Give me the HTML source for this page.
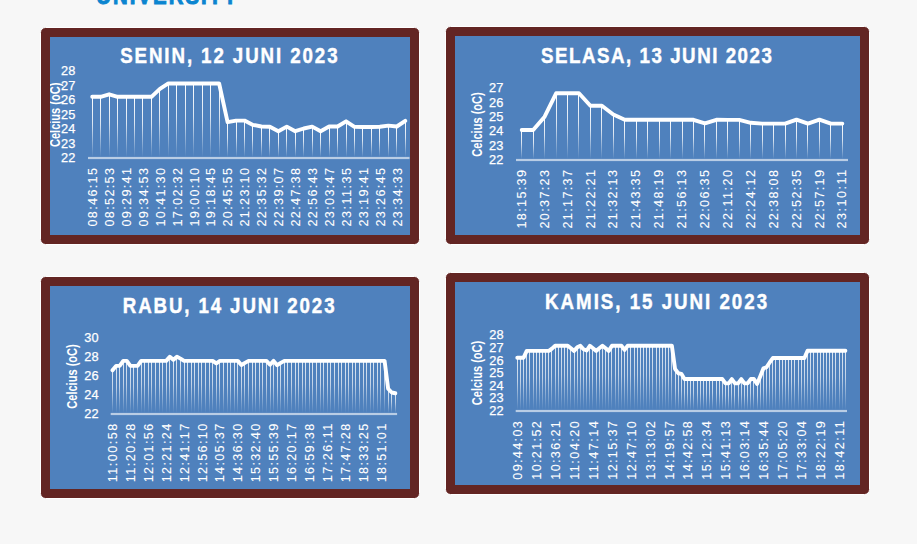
<!DOCTYPE html><html><head><meta charset="utf-8"><title>Charts</title><style>html,body{margin:0;padding:0;background:#f7f7f7;overflow:hidden}svg{display:block}text{font-family:"Liberation Sans",sans-serif}</style></head><body>
<svg width="917" height="544" viewBox="0 0 917 544">
<defs><linearGradient id="dg" x1="0" y1="0" x2="0" y2="1"><stop offset="0" stop-color="#fff" stop-opacity="1.000"/><stop offset="0.45" stop-color="#fff" stop-opacity="0.780"/><stop offset="0.8" stop-color="#fff" stop-opacity="0.300"/><stop offset="1" stop-color="#fff" stop-opacity="0"/></linearGradient><linearGradient id="dg2" x1="0" y1="0" x2="0" y2="1"><stop offset="0" stop-color="#fff" stop-opacity="0.820"/><stop offset="0.45" stop-color="#fff" stop-opacity="0.640"/><stop offset="0.8" stop-color="#fff" stop-opacity="0.246"/><stop offset="1" stop-color="#fff" stop-opacity="0"/></linearGradient></defs>
<rect width="917" height="544" fill="#f7f7f7"/>
<text transform="translate(96.2,4.2) scale(0.85,1)" font-size="24" font-weight="bold" fill="#0b85d0" stroke="#0b85d0" stroke-width="1" textLength="165.5" lengthAdjust="spacing">UNIVERSITY</text>
<rect x="40.5" y="27.5" width="379.0" height="217.0" rx="5" fill="#632523" stroke="#fff" stroke-width="1"/>
<rect x="50" y="37" width="360" height="198" fill="#4f81bd"/>
<clipPath id="cp0"><rect x="50" y="37" width="360" height="198"/></clipPath>
<g clip-path="url(#cp0)">
<text transform="translate(120.2,63.2) scale(0.870,1)" font-size="21.5" font-weight="bold" fill="#fff" stroke="#fff" stroke-width="0.45" textLength="249.8" lengthAdjust="spacing">SENIN, 12 JUNI 2023</text>
<text x="75.3" y="162.1" font-size="12.8" fill="#fff" stroke="#fff" stroke-width="0.25" text-anchor="end">22</text>
<text x="75.3" y="147.6" font-size="12.8" fill="#fff" stroke="#fff" stroke-width="0.25" text-anchor="end">23</text>
<text x="75.3" y="133.1" font-size="12.8" fill="#fff" stroke="#fff" stroke-width="0.25" text-anchor="end">24</text>
<text x="75.3" y="118.6" font-size="12.8" fill="#fff" stroke="#fff" stroke-width="0.25" text-anchor="end">25</text>
<text x="75.3" y="104.1" font-size="12.8" fill="#fff" stroke="#fff" stroke-width="0.25" text-anchor="end">26</text>
<text x="75.3" y="89.6" font-size="12.8" fill="#fff" stroke="#fff" stroke-width="0.25" text-anchor="end">27</text>
<text x="75.3" y="75.1" font-size="12.8" fill="#fff" stroke="#fff" stroke-width="0.25" text-anchor="end">28</text>
<text transform="translate(55.0,114.8) rotate(-90)" x="0" y="5" font-size="14" font-weight="bold" fill="#fff" text-anchor="middle" textLength="64.5" lengthAdjust="spacingAndGlyphs">Celcius (oC)</text>
<rect x="92" y="96.8" width="1" height="60.2" fill="url(#dg)"/>
<rect x="100" y="96.8" width="1" height="60.2" fill="url(#dg)"/>
<rect x="109" y="94.3" width="1" height="62.7" fill="url(#dg)"/>
<rect x="117" y="96.8" width="1" height="60.2" fill="url(#dg)"/>
<rect x="126" y="96.8" width="1" height="60.2" fill="url(#dg)"/>
<rect x="134" y="96.8" width="1" height="60.2" fill="url(#dg)"/>
<rect x="142" y="96.8" width="1" height="60.2" fill="url(#dg)"/>
<rect x="151" y="96.8" width="1" height="60.2" fill="url(#dg)"/>
<rect x="159" y="88.8" width="1" height="68.2" fill="url(#dg)"/>
<rect x="168" y="83.4" width="1" height="73.6" fill="url(#dg)"/>
<rect x="176" y="83.5" width="1" height="73.5" fill="url(#dg)"/>
<rect x="185" y="83.5" width="1" height="73.5" fill="url(#dg)"/>
<rect x="193" y="83.5" width="1" height="73.5" fill="url(#dg)"/>
<rect x="202" y="83.5" width="1" height="73.5" fill="url(#dg)"/>
<rect x="210" y="83.5" width="1" height="73.5" fill="url(#dg)"/>
<rect x="219" y="83.5" width="1" height="73.5" fill="url(#dg)"/>
<rect x="227" y="122.2" width="1" height="34.8" fill="url(#dg)"/>
<rect x="236" y="120.6" width="1" height="36.4" fill="url(#dg)"/>
<rect x="244" y="120.6" width="1" height="36.4" fill="url(#dg)"/>
<rect x="252" y="124.9" width="1" height="32.1" fill="url(#dg)"/>
<rect x="261" y="126.5" width="1" height="30.5" fill="url(#dg)"/>
<rect x="269" y="126.8" width="1" height="30.2" fill="url(#dg)"/>
<rect x="278" y="131.2" width="1" height="25.8" fill="url(#dg)"/>
<rect x="286" y="126.6" width="1" height="30.4" fill="url(#dg)"/>
<rect x="295" y="131.2" width="1" height="25.8" fill="url(#dg)"/>
<rect x="303" y="128.5" width="1" height="28.5" fill="url(#dg)"/>
<rect x="312" y="126.6" width="1" height="30.4" fill="url(#dg)"/>
<rect x="320" y="131.2" width="1" height="25.8" fill="url(#dg)"/>
<rect x="329" y="126.5" width="1" height="30.5" fill="url(#dg)"/>
<rect x="337" y="126.5" width="1" height="30.5" fill="url(#dg)"/>
<rect x="346" y="121.3" width="1" height="35.7" fill="url(#dg)"/>
<rect x="354" y="126.9" width="1" height="30.1" fill="url(#dg)"/>
<rect x="362" y="127.0" width="1" height="30.0" fill="url(#dg)"/>
<rect x="371" y="127.0" width="1" height="30.0" fill="url(#dg)"/>
<rect x="379" y="126.8" width="1" height="30.2" fill="url(#dg)"/>
<rect x="388" y="125.6" width="1" height="31.4" fill="url(#dg)"/>
<rect x="396" y="126.5" width="1" height="30.5" fill="url(#dg)"/>
<rect x="405" y="120.9" width="1" height="36.1" fill="url(#dg)"/>
<rect x="88.0" y="156.9" width="321.5" height="2.2" fill="#b9cde5"/>
<polyline points="92.23,96.80 100.69,96.80 109.15,94.30 117.61,96.80 126.07,96.80 134.53,96.80 142.99,96.80 151.45,96.80 159.91,88.80 168.37,83.40 176.83,83.50 185.29,83.50 193.75,83.50 202.21,83.50 210.67,83.50 219.13,83.50 227.59,122.20 236.05,120.60 244.51,120.60 252.97,124.90 261.43,126.50 269.89,126.80 278.35,131.20 286.81,126.60 295.27,131.20 303.73,128.50 312.19,126.60 320.65,131.20 329.11,126.50 337.57,126.50 346.03,121.30 354.49,126.90 362.95,127.00 371.41,127.00 379.87,126.80 388.33,125.60 396.79,126.50 405.25,120.90" fill="none" stroke="#fff" stroke-width="3.90" stroke-linejoin="round" stroke-linecap="round"/>
<text transform="translate(92.58,168.0) rotate(-90) scale(1.000,1)" x="0" y="4.4" font-size="12.6" fill="#fff" stroke="#fff" stroke-width="0.1" text-anchor="end" textLength="58.50" lengthAdjust="spacing">08:46:15</text>
<text transform="translate(109.50,168.0) rotate(-90) scale(1.000,1)" x="0" y="4.4" font-size="12.6" fill="#fff" stroke="#fff" stroke-width="0.1" text-anchor="end" textLength="58.50" lengthAdjust="spacing">08:52:53</text>
<text transform="translate(126.42,168.0) rotate(-90) scale(1.000,1)" x="0" y="4.4" font-size="12.6" fill="#fff" stroke="#fff" stroke-width="0.1" text-anchor="end" textLength="58.50" lengthAdjust="spacing">09:29:41</text>
<text transform="translate(143.34,168.0) rotate(-90) scale(1.000,1)" x="0" y="4.4" font-size="12.6" fill="#fff" stroke="#fff" stroke-width="0.1" text-anchor="end" textLength="58.50" lengthAdjust="spacing">09:34:53</text>
<text transform="translate(160.26,168.0) rotate(-90) scale(1.000,1)" x="0" y="4.4" font-size="12.6" fill="#fff" stroke="#fff" stroke-width="0.1" text-anchor="end" textLength="58.50" lengthAdjust="spacing">10:41:30</text>
<text transform="translate(177.18,168.0) rotate(-90) scale(1.000,1)" x="0" y="4.4" font-size="12.6" fill="#fff" stroke="#fff" stroke-width="0.1" text-anchor="end" textLength="58.50" lengthAdjust="spacing">17:02:32</text>
<text transform="translate(194.10,168.0) rotate(-90) scale(1.000,1)" x="0" y="4.4" font-size="12.6" fill="#fff" stroke="#fff" stroke-width="0.1" text-anchor="end" textLength="58.50" lengthAdjust="spacing">19:00:10</text>
<text transform="translate(211.02,168.0) rotate(-90) scale(1.000,1)" x="0" y="4.4" font-size="12.6" fill="#fff" stroke="#fff" stroke-width="0.1" text-anchor="end" textLength="58.50" lengthAdjust="spacing">19:18:45</text>
<text transform="translate(227.94,168.0) rotate(-90) scale(1.000,1)" x="0" y="4.4" font-size="12.6" fill="#fff" stroke="#fff" stroke-width="0.1" text-anchor="end" textLength="58.50" lengthAdjust="spacing">20:45:55</text>
<text transform="translate(244.86,168.0) rotate(-90) scale(1.000,1)" x="0" y="4.4" font-size="12.6" fill="#fff" stroke="#fff" stroke-width="0.1" text-anchor="end" textLength="58.50" lengthAdjust="spacing">21:23:10</text>
<text transform="translate(261.78,168.0) rotate(-90) scale(1.000,1)" x="0" y="4.4" font-size="12.6" fill="#fff" stroke="#fff" stroke-width="0.1" text-anchor="end" textLength="58.50" lengthAdjust="spacing">22:35:32</text>
<text transform="translate(278.70,168.0) rotate(-90) scale(1.000,1)" x="0" y="4.4" font-size="12.6" fill="#fff" stroke="#fff" stroke-width="0.1" text-anchor="end" textLength="58.50" lengthAdjust="spacing">22:39:07</text>
<text transform="translate(295.62,168.0) rotate(-90) scale(1.000,1)" x="0" y="4.4" font-size="12.6" fill="#fff" stroke="#fff" stroke-width="0.1" text-anchor="end" textLength="58.50" lengthAdjust="spacing">22:47:38</text>
<text transform="translate(312.54,168.0) rotate(-90) scale(1.000,1)" x="0" y="4.4" font-size="12.6" fill="#fff" stroke="#fff" stroke-width="0.1" text-anchor="end" textLength="58.50" lengthAdjust="spacing">22:56:43</text>
<text transform="translate(329.46,168.0) rotate(-90) scale(1.000,1)" x="0" y="4.4" font-size="12.6" fill="#fff" stroke="#fff" stroke-width="0.1" text-anchor="end" textLength="58.50" lengthAdjust="spacing">23:03:47</text>
<text transform="translate(346.38,168.0) rotate(-90) scale(1.000,1)" x="0" y="4.4" font-size="12.6" fill="#fff" stroke="#fff" stroke-width="0.1" text-anchor="end" textLength="58.50" lengthAdjust="spacing">23:11:35</text>
<text transform="translate(363.30,168.0) rotate(-90) scale(1.000,1)" x="0" y="4.4" font-size="12.6" fill="#fff" stroke="#fff" stroke-width="0.1" text-anchor="end" textLength="58.50" lengthAdjust="spacing">23:19:41</text>
<text transform="translate(380.22,168.0) rotate(-90) scale(1.000,1)" x="0" y="4.4" font-size="12.6" fill="#fff" stroke="#fff" stroke-width="0.1" text-anchor="end" textLength="58.50" lengthAdjust="spacing">23:26:45</text>
<text transform="translate(397.14,168.0) rotate(-90) scale(1.000,1)" x="0" y="4.4" font-size="12.6" fill="#fff" stroke="#fff" stroke-width="0.1" text-anchor="end" textLength="58.50" lengthAdjust="spacing">23:34:33</text>
</g>
<rect x="445.5" y="26.5" width="424.0" height="218.0" rx="5" fill="#632523" stroke="#fff" stroke-width="1"/>
<rect x="455" y="36" width="405" height="199" fill="#4f81bd"/>
<clipPath id="cp1"><rect x="455" y="36" width="405" height="199"/></clipPath>
<g clip-path="url(#cp1)">
<text transform="translate(541.1,62.5) scale(0.870,1)" font-size="21.5" font-weight="bold" fill="#fff" stroke="#fff" stroke-width="0.45" textLength="265.2" lengthAdjust="spacing">SELASA, 13 JUNI 2023</text>
<text x="503.3" y="164.0" font-size="12.8" fill="#fff" stroke="#fff" stroke-width="0.25" text-anchor="end">22</text>
<text x="503.3" y="149.7" font-size="12.8" fill="#fff" stroke="#fff" stroke-width="0.25" text-anchor="end">23</text>
<text x="503.3" y="135.4" font-size="12.8" fill="#fff" stroke="#fff" stroke-width="0.25" text-anchor="end">24</text>
<text x="503.3" y="121.0" font-size="12.8" fill="#fff" stroke="#fff" stroke-width="0.25" text-anchor="end">25</text>
<text x="503.3" y="106.7" font-size="12.8" fill="#fff" stroke="#fff" stroke-width="0.25" text-anchor="end">26</text>
<text x="503.3" y="92.4" font-size="12.8" fill="#fff" stroke="#fff" stroke-width="0.25" text-anchor="end">27</text>
<text transform="translate(477.1,124.5) rotate(-90)" x="0" y="5" font-size="14" font-weight="bold" fill="#fff" text-anchor="middle" textLength="64.5" lengthAdjust="spacingAndGlyphs">Celcius (oC)</text>
<rect x="521" y="130.0" width="1" height="29.0" fill="url(#dg)"/>
<rect x="533" y="130.0" width="1" height="29.0" fill="url(#dg)"/>
<rect x="544" y="116.7" width="1" height="42.3" fill="url(#dg)"/>
<rect x="556" y="93.3" width="1" height="65.7" fill="url(#dg)"/>
<rect x="567" y="93.3" width="1" height="65.7" fill="url(#dg)"/>
<rect x="578" y="93.3" width="1" height="65.7" fill="url(#dg)"/>
<rect x="590" y="105.8" width="1" height="53.2" fill="url(#dg)"/>
<rect x="601" y="105.8" width="1" height="53.2" fill="url(#dg)"/>
<rect x="613" y="114.5" width="1" height="44.5" fill="url(#dg)"/>
<rect x="624" y="119.8" width="1" height="39.2" fill="url(#dg)"/>
<rect x="636" y="119.8" width="1" height="39.2" fill="url(#dg)"/>
<rect x="647" y="119.8" width="1" height="39.2" fill="url(#dg)"/>
<rect x="659" y="119.8" width="1" height="39.2" fill="url(#dg)"/>
<rect x="670" y="119.8" width="1" height="39.2" fill="url(#dg)"/>
<rect x="682" y="119.8" width="1" height="39.2" fill="url(#dg)"/>
<rect x="693" y="119.8" width="1" height="39.2" fill="url(#dg)"/>
<rect x="704" y="123.4" width="1" height="35.6" fill="url(#dg)"/>
<rect x="716" y="119.8" width="1" height="39.2" fill="url(#dg)"/>
<rect x="727" y="119.9" width="1" height="39.1" fill="url(#dg)"/>
<rect x="739" y="119.9" width="1" height="39.1" fill="url(#dg)"/>
<rect x="750" y="122.8" width="1" height="36.2" fill="url(#dg)"/>
<rect x="762" y="123.6" width="1" height="35.4" fill="url(#dg)"/>
<rect x="773" y="123.6" width="1" height="35.4" fill="url(#dg)"/>
<rect x="785" y="123.6" width="1" height="35.4" fill="url(#dg)"/>
<rect x="796" y="119.6" width="1" height="39.4" fill="url(#dg)"/>
<rect x="807" y="123.6" width="1" height="35.4" fill="url(#dg)"/>
<rect x="819" y="119.6" width="1" height="39.4" fill="url(#dg)"/>
<rect x="830" y="123.6" width="1" height="35.4" fill="url(#dg)"/>
<rect x="842" y="123.6" width="1" height="35.4" fill="url(#dg)"/>
<rect x="516.0" y="158.9" width="332.0" height="2.2" fill="#b9cde5"/>
<polyline points="521.73,130.00 533.17,130.00 544.62,116.70 556.08,93.30 567.52,93.30 578.98,93.30 590.42,105.80 601.88,105.80 613.33,114.50 624.77,119.80 636.23,119.80 647.67,119.80 659.12,119.80 670.58,119.80 682.02,119.80 693.48,119.80 704.92,123.40 716.38,119.80 727.83,119.90 739.27,119.90 750.73,122.80 762.17,123.60 773.62,123.60 785.08,123.60 796.52,119.60 807.97,123.60 819.42,119.60 830.88,123.60 842.33,123.60" fill="none" stroke="#fff" stroke-width="3.90" stroke-linejoin="round" stroke-linecap="round"/>
<text transform="translate(521.48,170.0) rotate(-90) scale(1.000,1)" x="0" y="4.4" font-size="12.6" fill="#fff" stroke="#fff" stroke-width="0.1" text-anchor="end" textLength="58.50" lengthAdjust="spacing">18:15:39</text>
<text transform="translate(544.38,170.0) rotate(-90) scale(1.000,1)" x="0" y="4.4" font-size="12.6" fill="#fff" stroke="#fff" stroke-width="0.1" text-anchor="end" textLength="58.50" lengthAdjust="spacing">20:37:23</text>
<text transform="translate(567.27,170.0) rotate(-90) scale(1.000,1)" x="0" y="4.4" font-size="12.6" fill="#fff" stroke="#fff" stroke-width="0.1" text-anchor="end" textLength="58.50" lengthAdjust="spacing">21:17:37</text>
<text transform="translate(590.17,170.0) rotate(-90) scale(1.000,1)" x="0" y="4.4" font-size="12.6" fill="#fff" stroke="#fff" stroke-width="0.1" text-anchor="end" textLength="58.50" lengthAdjust="spacing">21:22:21</text>
<text transform="translate(613.08,170.0) rotate(-90) scale(1.000,1)" x="0" y="4.4" font-size="12.6" fill="#fff" stroke="#fff" stroke-width="0.1" text-anchor="end" textLength="58.50" lengthAdjust="spacing">21:32:13</text>
<text transform="translate(635.98,170.0) rotate(-90) scale(1.000,1)" x="0" y="4.4" font-size="12.6" fill="#fff" stroke="#fff" stroke-width="0.1" text-anchor="end" textLength="58.50" lengthAdjust="spacing">21:43:35</text>
<text transform="translate(658.88,170.0) rotate(-90) scale(1.000,1)" x="0" y="4.4" font-size="12.6" fill="#fff" stroke="#fff" stroke-width="0.1" text-anchor="end" textLength="58.50" lengthAdjust="spacing">21:48:19</text>
<text transform="translate(681.77,170.0) rotate(-90) scale(1.000,1)" x="0" y="4.4" font-size="12.6" fill="#fff" stroke="#fff" stroke-width="0.1" text-anchor="end" textLength="58.50" lengthAdjust="spacing">21:56:13</text>
<text transform="translate(704.67,170.0) rotate(-90) scale(1.000,1)" x="0" y="4.4" font-size="12.6" fill="#fff" stroke="#fff" stroke-width="0.1" text-anchor="end" textLength="58.50" lengthAdjust="spacing">22:06:35</text>
<text transform="translate(727.58,170.0) rotate(-90) scale(1.000,1)" x="0" y="4.4" font-size="12.6" fill="#fff" stroke="#fff" stroke-width="0.1" text-anchor="end" textLength="58.50" lengthAdjust="spacing">22:11:20</text>
<text transform="translate(750.48,170.0) rotate(-90) scale(1.000,1)" x="0" y="4.4" font-size="12.6" fill="#fff" stroke="#fff" stroke-width="0.1" text-anchor="end" textLength="58.50" lengthAdjust="spacing">22:24:12</text>
<text transform="translate(773.38,170.0) rotate(-90) scale(1.000,1)" x="0" y="4.4" font-size="12.6" fill="#fff" stroke="#fff" stroke-width="0.1" text-anchor="end" textLength="58.50" lengthAdjust="spacing">22:38:08</text>
<text transform="translate(796.27,170.0) rotate(-90) scale(1.000,1)" x="0" y="4.4" font-size="12.6" fill="#fff" stroke="#fff" stroke-width="0.1" text-anchor="end" textLength="58.50" lengthAdjust="spacing">22:52:35</text>
<text transform="translate(819.17,170.0) rotate(-90) scale(1.000,1)" x="0" y="4.4" font-size="12.6" fill="#fff" stroke="#fff" stroke-width="0.1" text-anchor="end" textLength="58.50" lengthAdjust="spacing">22:57:19</text>
<text transform="translate(842.08,170.0) rotate(-90) scale(1.000,1)" x="0" y="4.4" font-size="12.6" fill="#fff" stroke="#fff" stroke-width="0.1" text-anchor="end" textLength="58.50" lengthAdjust="spacing">23:10:11</text>
</g>
<rect x="40.5" y="276.5" width="379.0" height="222.0" rx="5" fill="#632523" stroke="#fff" stroke-width="1"/>
<rect x="50" y="286" width="360" height="203" fill="#4f81bd"/>
<clipPath id="cp2"><rect x="50" y="286" width="360" height="203"/></clipPath>
<g clip-path="url(#cp2)">
<text transform="translate(122.8,312.6) scale(0.870,1)" font-size="21.5" font-weight="bold" fill="#fff" stroke="#fff" stroke-width="0.45" textLength="243.4" lengthAdjust="spacing">RABU, 14 JUNI 2023</text>
<text x="98.6" y="417.7" font-size="12.8" fill="#fff" stroke="#fff" stroke-width="0.25" text-anchor="end">22</text>
<text x="98.6" y="398.9" font-size="12.8" fill="#fff" stroke="#fff" stroke-width="0.25" text-anchor="end">24</text>
<text x="98.6" y="380.0" font-size="12.8" fill="#fff" stroke="#fff" stroke-width="0.25" text-anchor="end">26</text>
<text x="98.6" y="361.2" font-size="12.8" fill="#fff" stroke="#fff" stroke-width="0.25" text-anchor="end">28</text>
<text x="98.6" y="342.4" font-size="12.8" fill="#fff" stroke="#fff" stroke-width="0.25" text-anchor="end">30</text>
<text transform="translate(72.0,376.5) rotate(-90)" x="0" y="5" font-size="14" font-weight="bold" fill="#fff" text-anchor="middle" textLength="64.5" lengthAdjust="spacingAndGlyphs">Celcius (oC)</text>
<rect x="112" y="370.3" width="1" height="42.7" fill="url(#dg2)"/>
<rect x="116" y="365.9" width="1" height="47.1" fill="url(#dg2)"/>
<rect x="119" y="365.9" width="1" height="47.1" fill="url(#dg2)"/>
<rect x="123" y="360.9" width="1" height="52.1" fill="url(#dg2)"/>
<rect x="126" y="360.9" width="1" height="52.1" fill="url(#dg2)"/>
<rect x="130" y="365.9" width="1" height="47.1" fill="url(#dg2)"/>
<rect x="133" y="365.9" width="1" height="47.1" fill="url(#dg2)"/>
<rect x="137" y="365.9" width="1" height="47.1" fill="url(#dg2)"/>
<rect x="141" y="360.9" width="1" height="52.1" fill="url(#dg2)"/>
<rect x="144" y="360.9" width="1" height="52.1" fill="url(#dg2)"/>
<rect x="148" y="360.9" width="1" height="52.1" fill="url(#dg2)"/>
<rect x="151" y="360.9" width="1" height="52.1" fill="url(#dg2)"/>
<rect x="155" y="360.9" width="1" height="52.1" fill="url(#dg2)"/>
<rect x="159" y="360.9" width="1" height="52.1" fill="url(#dg2)"/>
<rect x="162" y="360.9" width="1" height="52.1" fill="url(#dg2)"/>
<rect x="166" y="360.9" width="1" height="52.1" fill="url(#dg2)"/>
<rect x="169" y="356.7" width="1" height="56.3" fill="url(#dg2)"/>
<rect x="173" y="359.8" width="1" height="53.2" fill="url(#dg2)"/>
<rect x="176" y="356.7" width="1" height="56.3" fill="url(#dg2)"/>
<rect x="180" y="358.6" width="1" height="54.4" fill="url(#dg2)"/>
<rect x="184" y="360.9" width="1" height="52.1" fill="url(#dg2)"/>
<rect x="187" y="360.9" width="1" height="52.1" fill="url(#dg2)"/>
<rect x="191" y="360.9" width="1" height="52.1" fill="url(#dg2)"/>
<rect x="194" y="360.9" width="1" height="52.1" fill="url(#dg2)"/>
<rect x="198" y="360.9" width="1" height="52.1" fill="url(#dg2)"/>
<rect x="201" y="360.9" width="1" height="52.1" fill="url(#dg2)"/>
<rect x="205" y="360.9" width="1" height="52.1" fill="url(#dg2)"/>
<rect x="209" y="360.9" width="1" height="52.1" fill="url(#dg2)"/>
<rect x="212" y="360.9" width="1" height="52.1" fill="url(#dg2)"/>
<rect x="216" y="363.3" width="1" height="49.7" fill="url(#dg2)"/>
<rect x="219" y="360.9" width="1" height="52.1" fill="url(#dg2)"/>
<rect x="223" y="360.9" width="1" height="52.1" fill="url(#dg2)"/>
<rect x="227" y="360.9" width="1" height="52.1" fill="url(#dg2)"/>
<rect x="230" y="360.9" width="1" height="52.1" fill="url(#dg2)"/>
<rect x="234" y="360.9" width="1" height="52.1" fill="url(#dg2)"/>
<rect x="237" y="360.9" width="1" height="52.1" fill="url(#dg2)"/>
<rect x="241" y="365.0" width="1" height="48.0" fill="url(#dg2)"/>
<rect x="244" y="362.8" width="1" height="50.2" fill="url(#dg2)"/>
<rect x="248" y="360.9" width="1" height="52.1" fill="url(#dg2)"/>
<rect x="252" y="360.9" width="1" height="52.1" fill="url(#dg2)"/>
<rect x="255" y="360.9" width="1" height="52.1" fill="url(#dg2)"/>
<rect x="259" y="360.9" width="1" height="52.1" fill="url(#dg2)"/>
<rect x="262" y="360.9" width="1" height="52.1" fill="url(#dg2)"/>
<rect x="266" y="360.9" width="1" height="52.1" fill="url(#dg2)"/>
<rect x="270" y="364.7" width="1" height="48.3" fill="url(#dg2)"/>
<rect x="273" y="360.9" width="1" height="52.1" fill="url(#dg2)"/>
<rect x="277" y="365.2" width="1" height="47.8" fill="url(#dg2)"/>
<rect x="280" y="362.8" width="1" height="50.2" fill="url(#dg2)"/>
<rect x="284" y="360.9" width="1" height="52.1" fill="url(#dg2)"/>
<rect x="287" y="360.9" width="1" height="52.1" fill="url(#dg2)"/>
<rect x="291" y="360.9" width="1" height="52.1" fill="url(#dg2)"/>
<rect x="295" y="360.9" width="1" height="52.1" fill="url(#dg2)"/>
<rect x="298" y="360.9" width="1" height="52.1" fill="url(#dg2)"/>
<rect x="302" y="360.9" width="1" height="52.1" fill="url(#dg2)"/>
<rect x="305" y="360.9" width="1" height="52.1" fill="url(#dg2)"/>
<rect x="309" y="360.9" width="1" height="52.1" fill="url(#dg2)"/>
<rect x="312" y="360.9" width="1" height="52.1" fill="url(#dg2)"/>
<rect x="316" y="360.9" width="1" height="52.1" fill="url(#dg2)"/>
<rect x="320" y="360.9" width="1" height="52.1" fill="url(#dg2)"/>
<rect x="323" y="360.9" width="1" height="52.1" fill="url(#dg2)"/>
<rect x="327" y="360.9" width="1" height="52.1" fill="url(#dg2)"/>
<rect x="330" y="360.9" width="1" height="52.1" fill="url(#dg2)"/>
<rect x="334" y="360.9" width="1" height="52.1" fill="url(#dg2)"/>
<rect x="338" y="360.9" width="1" height="52.1" fill="url(#dg2)"/>
<rect x="341" y="360.9" width="1" height="52.1" fill="url(#dg2)"/>
<rect x="345" y="360.9" width="1" height="52.1" fill="url(#dg2)"/>
<rect x="348" y="360.9" width="1" height="52.1" fill="url(#dg2)"/>
<rect x="352" y="360.9" width="1" height="52.1" fill="url(#dg2)"/>
<rect x="355" y="360.9" width="1" height="52.1" fill="url(#dg2)"/>
<rect x="359" y="360.9" width="1" height="52.1" fill="url(#dg2)"/>
<rect x="363" y="360.9" width="1" height="52.1" fill="url(#dg2)"/>
<rect x="366" y="360.9" width="1" height="52.1" fill="url(#dg2)"/>
<rect x="370" y="360.9" width="1" height="52.1" fill="url(#dg2)"/>
<rect x="373" y="360.9" width="1" height="52.1" fill="url(#dg2)"/>
<rect x="377" y="360.9" width="1" height="52.1" fill="url(#dg2)"/>
<rect x="380" y="360.9" width="1" height="52.1" fill="url(#dg2)"/>
<rect x="384" y="360.9" width="1" height="52.1" fill="url(#dg2)"/>
<rect x="388" y="388.7" width="1" height="24.3" fill="url(#dg2)"/>
<rect x="391" y="392.5" width="1" height="20.5" fill="url(#dg2)"/>
<rect x="395" y="393.2" width="1" height="19.8" fill="url(#dg2)"/>
<rect x="110.7" y="412.9" width="286.4" height="2.2" fill="#b9cde5"/>
<polyline points="112.49,370.28 116.07,365.86 119.65,365.86 123.23,360.87 126.81,360.87 130.39,365.86 133.97,365.86 137.55,365.86 141.13,360.87 144.71,360.87 148.29,360.87 151.87,360.87 155.45,360.87 159.03,360.87 162.61,360.87 166.19,360.87 169.77,356.72 173.35,359.83 176.93,356.72 180.51,358.61 184.09,360.87 187.67,360.87 191.25,360.87 194.83,360.87 198.41,360.87 201.99,360.87 205.57,360.87 209.15,360.87 212.73,360.87 216.31,363.31 219.89,360.87 223.47,360.87 227.05,360.87 230.63,360.87 234.21,360.87 237.79,360.87 241.37,365.01 244.95,362.84 248.53,360.87 252.11,360.87 255.69,360.87 259.27,360.87 262.85,360.87 266.43,360.87 270.01,364.73 273.59,360.87 277.17,365.20 280.75,362.84 284.33,360.87 287.91,360.87 291.49,360.87 295.07,360.87 298.65,360.87 302.23,360.87 305.81,360.87 309.39,360.87 312.97,360.87 316.55,360.87 320.13,360.87 323.71,360.87 327.29,360.87 330.87,360.87 334.45,360.87 338.03,360.87 341.61,360.87 345.19,360.87 348.77,360.87 352.35,360.87 355.93,360.87 359.51,360.87 363.09,360.87 366.67,360.87 370.25,360.87 373.83,360.87 377.41,360.87 380.99,360.87 384.57,360.87 388.15,388.73 391.73,392.49 395.31,393.25" fill="none" stroke="#fff" stroke-width="3.90" stroke-linejoin="round" stroke-linecap="round"/>
<text transform="translate(112.69,423.8) rotate(-90) scale(1.000,1)" x="0" y="4.4" font-size="12.6" fill="#fff" stroke="#fff" stroke-width="0.1" text-anchor="end" textLength="58.50" lengthAdjust="spacing">11:00:58</text>
<text transform="translate(130.59,423.8) rotate(-90) scale(1.000,1)" x="0" y="4.4" font-size="12.6" fill="#fff" stroke="#fff" stroke-width="0.1" text-anchor="end" textLength="58.50" lengthAdjust="spacing">11:20:28</text>
<text transform="translate(148.49,423.8) rotate(-90) scale(1.000,1)" x="0" y="4.4" font-size="12.6" fill="#fff" stroke="#fff" stroke-width="0.1" text-anchor="end" textLength="58.50" lengthAdjust="spacing">12:01:56</text>
<text transform="translate(166.39,423.8) rotate(-90) scale(1.000,1)" x="0" y="4.4" font-size="12.6" fill="#fff" stroke="#fff" stroke-width="0.1" text-anchor="end" textLength="58.50" lengthAdjust="spacing">12:21:24</text>
<text transform="translate(184.29,423.8) rotate(-90) scale(1.000,1)" x="0" y="4.4" font-size="12.6" fill="#fff" stroke="#fff" stroke-width="0.1" text-anchor="end" textLength="58.50" lengthAdjust="spacing">12:41:17</text>
<text transform="translate(202.19,423.8) rotate(-90) scale(1.000,1)" x="0" y="4.4" font-size="12.6" fill="#fff" stroke="#fff" stroke-width="0.1" text-anchor="end" textLength="58.50" lengthAdjust="spacing">12:56:10</text>
<text transform="translate(220.09,423.8) rotate(-90) scale(1.000,1)" x="0" y="4.4" font-size="12.6" fill="#fff" stroke="#fff" stroke-width="0.1" text-anchor="end" textLength="58.50" lengthAdjust="spacing">14:05:37</text>
<text transform="translate(237.99,423.8) rotate(-90) scale(1.000,1)" x="0" y="4.4" font-size="12.6" fill="#fff" stroke="#fff" stroke-width="0.1" text-anchor="end" textLength="58.50" lengthAdjust="spacing">14:36:30</text>
<text transform="translate(255.89,423.8) rotate(-90) scale(1.000,1)" x="0" y="4.4" font-size="12.6" fill="#fff" stroke="#fff" stroke-width="0.1" text-anchor="end" textLength="58.50" lengthAdjust="spacing">15:32:40</text>
<text transform="translate(273.79,423.8) rotate(-90) scale(1.000,1)" x="0" y="4.4" font-size="12.6" fill="#fff" stroke="#fff" stroke-width="0.1" text-anchor="end" textLength="58.50" lengthAdjust="spacing">15:55:39</text>
<text transform="translate(291.69,423.8) rotate(-90) scale(1.000,1)" x="0" y="4.4" font-size="12.6" fill="#fff" stroke="#fff" stroke-width="0.1" text-anchor="end" textLength="58.50" lengthAdjust="spacing">16:20:17</text>
<text transform="translate(309.59,423.8) rotate(-90) scale(1.000,1)" x="0" y="4.4" font-size="12.6" fill="#fff" stroke="#fff" stroke-width="0.1" text-anchor="end" textLength="58.50" lengthAdjust="spacing">16:59:38</text>
<text transform="translate(327.49,423.8) rotate(-90) scale(1.000,1)" x="0" y="4.4" font-size="12.6" fill="#fff" stroke="#fff" stroke-width="0.1" text-anchor="end" textLength="58.50" lengthAdjust="spacing">17:26:11</text>
<text transform="translate(345.39,423.8) rotate(-90) scale(1.000,1)" x="0" y="4.4" font-size="12.6" fill="#fff" stroke="#fff" stroke-width="0.1" text-anchor="end" textLength="58.50" lengthAdjust="spacing">17:47:28</text>
<text transform="translate(363.29,423.8) rotate(-90) scale(1.000,1)" x="0" y="4.4" font-size="12.6" fill="#fff" stroke="#fff" stroke-width="0.1" text-anchor="end" textLength="58.50" lengthAdjust="spacing">18:33:25</text>
<text transform="translate(381.19,423.8) rotate(-90) scale(1.000,1)" x="0" y="4.4" font-size="12.6" fill="#fff" stroke="#fff" stroke-width="0.1" text-anchor="end" textLength="58.50" lengthAdjust="spacing">18:51:01</text>
</g>
<rect x="445.5" y="272.5" width="424.0" height="222.0" rx="5" fill="#632523" stroke="#fff" stroke-width="1"/>
<rect x="455" y="282" width="405" height="203" fill="#4f81bd"/>
<clipPath id="cp3"><rect x="455" y="282" width="405" height="203"/></clipPath>
<g clip-path="url(#cp3)">
<text transform="translate(545.1,309.1) scale(0.870,1)" font-size="21.5" font-weight="bold" fill="#fff" stroke="#fff" stroke-width="0.45" textLength="255.1" lengthAdjust="spacing">KAMIS, 15 JUNI 2023</text>
<text x="503.6" y="415.0" font-size="12.8" fill="#fff" stroke="#fff" stroke-width="0.25" text-anchor="end">22</text>
<text x="503.6" y="402.4" font-size="12.8" fill="#fff" stroke="#fff" stroke-width="0.25" text-anchor="end">23</text>
<text x="503.6" y="389.7" font-size="12.8" fill="#fff" stroke="#fff" stroke-width="0.25" text-anchor="end">24</text>
<text x="503.6" y="377.1" font-size="12.8" fill="#fff" stroke="#fff" stroke-width="0.25" text-anchor="end">25</text>
<text x="503.6" y="364.5" font-size="12.8" fill="#fff" stroke="#fff" stroke-width="0.25" text-anchor="end">26</text>
<text x="503.6" y="351.8" font-size="12.8" fill="#fff" stroke="#fff" stroke-width="0.25" text-anchor="end">27</text>
<text x="503.6" y="339.2" font-size="12.8" fill="#fff" stroke="#fff" stroke-width="0.25" text-anchor="end">28</text>
<text transform="translate(476.9,373.0) rotate(-90)" x="0" y="5" font-size="14" font-weight="bold" fill="#fff" text-anchor="middle" textLength="64.5" lengthAdjust="spacingAndGlyphs">Celcius (oC)</text>
<rect x="517" y="357.7" width="1" height="52.3" fill="url(#dg2)"/>
<rect x="520" y="357.7" width="1" height="52.3" fill="url(#dg2)"/>
<rect x="523" y="357.7" width="1" height="52.3" fill="url(#dg2)"/>
<rect x="526" y="350.9" width="1" height="59.1" fill="url(#dg2)"/>
<rect x="529" y="350.9" width="1" height="59.1" fill="url(#dg2)"/>
<rect x="533" y="350.9" width="1" height="59.1" fill="url(#dg2)"/>
<rect x="536" y="350.9" width="1" height="59.1" fill="url(#dg2)"/>
<rect x="539" y="350.9" width="1" height="59.1" fill="url(#dg2)"/>
<rect x="542" y="350.9" width="1" height="59.1" fill="url(#dg2)"/>
<rect x="545" y="350.9" width="1" height="59.1" fill="url(#dg2)"/>
<rect x="548" y="350.9" width="1" height="59.1" fill="url(#dg2)"/>
<rect x="551" y="348.6" width="1" height="61.4" fill="url(#dg2)"/>
<rect x="555" y="345.8" width="1" height="64.2" fill="url(#dg2)"/>
<rect x="558" y="345.8" width="1" height="64.2" fill="url(#dg2)"/>
<rect x="561" y="345.8" width="1" height="64.2" fill="url(#dg2)"/>
<rect x="564" y="345.8" width="1" height="64.2" fill="url(#dg2)"/>
<rect x="567" y="345.8" width="1" height="64.2" fill="url(#dg2)"/>
<rect x="570" y="348.3" width="1" height="61.7" fill="url(#dg2)"/>
<rect x="574" y="350.9" width="1" height="59.1" fill="url(#dg2)"/>
<rect x="577" y="347.3" width="1" height="62.7" fill="url(#dg2)"/>
<rect x="580" y="345.8" width="1" height="64.2" fill="url(#dg2)"/>
<rect x="583" y="349.2" width="1" height="60.8" fill="url(#dg2)"/>
<rect x="586" y="350.5" width="1" height="59.5" fill="url(#dg2)"/>
<rect x="589" y="345.8" width="1" height="64.2" fill="url(#dg2)"/>
<rect x="592" y="348.3" width="1" height="61.7" fill="url(#dg2)"/>
<rect x="596" y="350.9" width="1" height="59.1" fill="url(#dg2)"/>
<rect x="599" y="348.3" width="1" height="61.7" fill="url(#dg2)"/>
<rect x="602" y="345.8" width="1" height="64.2" fill="url(#dg2)"/>
<rect x="605" y="348.3" width="1" height="61.7" fill="url(#dg2)"/>
<rect x="608" y="350.9" width="1" height="59.1" fill="url(#dg2)"/>
<rect x="611" y="345.8" width="1" height="64.2" fill="url(#dg2)"/>
<rect x="615" y="345.8" width="1" height="64.2" fill="url(#dg2)"/>
<rect x="618" y="345.8" width="1" height="64.2" fill="url(#dg2)"/>
<rect x="621" y="345.8" width="1" height="64.2" fill="url(#dg2)"/>
<rect x="624" y="349.9" width="1" height="60.1" fill="url(#dg2)"/>
<rect x="627" y="345.8" width="1" height="64.2" fill="url(#dg2)"/>
<rect x="630" y="345.8" width="1" height="64.2" fill="url(#dg2)"/>
<rect x="634" y="345.8" width="1" height="64.2" fill="url(#dg2)"/>
<rect x="637" y="345.8" width="1" height="64.2" fill="url(#dg2)"/>
<rect x="640" y="345.8" width="1" height="64.2" fill="url(#dg2)"/>
<rect x="643" y="345.8" width="1" height="64.2" fill="url(#dg2)"/>
<rect x="646" y="345.8" width="1" height="64.2" fill="url(#dg2)"/>
<rect x="649" y="345.8" width="1" height="64.2" fill="url(#dg2)"/>
<rect x="652" y="345.8" width="1" height="64.2" fill="url(#dg2)"/>
<rect x="656" y="345.8" width="1" height="64.2" fill="url(#dg2)"/>
<rect x="659" y="345.8" width="1" height="64.2" fill="url(#dg2)"/>
<rect x="662" y="345.8" width="1" height="64.2" fill="url(#dg2)"/>
<rect x="665" y="345.8" width="1" height="64.2" fill="url(#dg2)"/>
<rect x="668" y="345.8" width="1" height="64.2" fill="url(#dg2)"/>
<rect x="671" y="345.8" width="1" height="64.2" fill="url(#dg2)"/>
<rect x="675" y="368.8" width="1" height="41.2" fill="url(#dg2)"/>
<rect x="678" y="373.2" width="1" height="36.8" fill="url(#dg2)"/>
<rect x="681" y="373.9" width="1" height="36.1" fill="url(#dg2)"/>
<rect x="684" y="379.0" width="1" height="31.0" fill="url(#dg2)"/>
<rect x="687" y="379.0" width="1" height="31.0" fill="url(#dg2)"/>
<rect x="690" y="379.0" width="1" height="31.0" fill="url(#dg2)"/>
<rect x="693" y="379.0" width="1" height="31.0" fill="url(#dg2)"/>
<rect x="697" y="379.0" width="1" height="31.0" fill="url(#dg2)"/>
<rect x="700" y="379.0" width="1" height="31.0" fill="url(#dg2)"/>
<rect x="703" y="379.0" width="1" height="31.0" fill="url(#dg2)"/>
<rect x="706" y="379.0" width="1" height="31.0" fill="url(#dg2)"/>
<rect x="709" y="379.0" width="1" height="31.0" fill="url(#dg2)"/>
<rect x="712" y="379.0" width="1" height="31.0" fill="url(#dg2)"/>
<rect x="716" y="379.0" width="1" height="31.0" fill="url(#dg2)"/>
<rect x="719" y="379.0" width="1" height="31.0" fill="url(#dg2)"/>
<rect x="722" y="379.0" width="1" height="31.0" fill="url(#dg2)"/>
<rect x="725" y="383.3" width="1" height="26.7" fill="url(#dg2)"/>
<rect x="728" y="383.3" width="1" height="26.7" fill="url(#dg2)"/>
<rect x="731" y="379.0" width="1" height="31.0" fill="url(#dg2)"/>
<rect x="734" y="383.3" width="1" height="26.7" fill="url(#dg2)"/>
<rect x="738" y="383.3" width="1" height="26.7" fill="url(#dg2)"/>
<rect x="741" y="379.0" width="1" height="31.0" fill="url(#dg2)"/>
<rect x="744" y="383.3" width="1" height="26.7" fill="url(#dg2)"/>
<rect x="747" y="383.3" width="1" height="26.7" fill="url(#dg2)"/>
<rect x="750" y="379.0" width="1" height="31.0" fill="url(#dg2)"/>
<rect x="753" y="379.0" width="1" height="31.0" fill="url(#dg2)"/>
<rect x="757" y="384.0" width="1" height="26.0" fill="url(#dg2)"/>
<rect x="760" y="376.4" width="1" height="33.6" fill="url(#dg2)"/>
<rect x="763" y="368.4" width="1" height="41.6" fill="url(#dg2)"/>
<rect x="766" y="367.3" width="1" height="42.7" fill="url(#dg2)"/>
<rect x="769" y="362.5" width="1" height="47.5" fill="url(#dg2)"/>
<rect x="772" y="358.1" width="1" height="51.9" fill="url(#dg2)"/>
<rect x="775" y="358.1" width="1" height="51.9" fill="url(#dg2)"/>
<rect x="779" y="358.1" width="1" height="51.9" fill="url(#dg2)"/>
<rect x="782" y="358.1" width="1" height="51.9" fill="url(#dg2)"/>
<rect x="785" y="358.1" width="1" height="51.9" fill="url(#dg2)"/>
<rect x="788" y="358.1" width="1" height="51.9" fill="url(#dg2)"/>
<rect x="791" y="358.1" width="1" height="51.9" fill="url(#dg2)"/>
<rect x="794" y="358.1" width="1" height="51.9" fill="url(#dg2)"/>
<rect x="798" y="358.1" width="1" height="51.9" fill="url(#dg2)"/>
<rect x="801" y="358.1" width="1" height="51.9" fill="url(#dg2)"/>
<rect x="804" y="358.1" width="1" height="51.9" fill="url(#dg2)"/>
<rect x="807" y="350.7" width="1" height="59.3" fill="url(#dg2)"/>
<rect x="810" y="350.7" width="1" height="59.3" fill="url(#dg2)"/>
<rect x="813" y="350.7" width="1" height="59.3" fill="url(#dg2)"/>
<rect x="817" y="350.7" width="1" height="59.3" fill="url(#dg2)"/>
<rect x="820" y="350.7" width="1" height="59.3" fill="url(#dg2)"/>
<rect x="823" y="350.7" width="1" height="59.3" fill="url(#dg2)"/>
<rect x="826" y="350.7" width="1" height="59.3" fill="url(#dg2)"/>
<rect x="829" y="350.7" width="1" height="59.3" fill="url(#dg2)"/>
<rect x="832" y="350.7" width="1" height="59.3" fill="url(#dg2)"/>
<rect x="835" y="350.7" width="1" height="59.3" fill="url(#dg2)"/>
<rect x="839" y="350.7" width="1" height="59.3" fill="url(#dg2)"/>
<rect x="842" y="350.7" width="1" height="59.3" fill="url(#dg2)"/>
<rect x="845" y="350.7" width="1" height="59.3" fill="url(#dg2)"/>
<rect x="515.7" y="409.9" width="331.3" height="2.2" fill="#b9cde5"/>
<polyline points="517.28,357.69 520.43,357.69 523.59,357.69 526.74,350.87 529.90,350.87 533.05,350.87 536.21,350.87 539.36,350.87 542.52,350.87 545.67,350.87 548.83,350.87 551.98,348.60 555.14,345.82 558.29,345.82 561.45,345.82 564.60,345.82 567.76,345.82 570.91,348.34 574.07,350.87 577.22,347.33 580.38,345.82 583.53,349.23 586.69,350.49 589.84,345.82 593.00,348.34 596.15,350.87 599.31,348.34 602.46,345.82 605.62,348.34 608.77,350.87 611.93,345.82 615.08,345.82 618.24,345.82 621.39,345.82 624.55,349.86 627.70,345.82 630.86,345.82 634.01,345.82 637.17,345.82 640.32,345.82 643.48,345.82 646.63,345.82 649.79,345.82 652.94,345.82 656.10,345.82 659.25,345.82 662.41,345.82 665.56,345.82 668.72,345.82 671.87,345.82 675.03,368.81 678.18,373.23 681.34,373.86 684.49,379.04 687.65,379.04 690.80,379.04 693.96,379.04 697.11,379.04 700.27,379.04 703.42,379.04 706.58,379.04 709.73,379.04 712.89,379.04 716.04,379.04 719.20,379.04 722.35,379.04 725.51,383.34 728.66,383.34 731.82,379.04 734.97,383.34 738.13,383.34 741.28,379.04 744.44,383.34 747.59,383.34 750.75,379.04 753.90,379.04 757.06,383.97 760.21,376.39 763.37,368.43 766.52,367.29 769.68,362.49 772.83,358.07 775.99,358.07 779.14,358.07 782.30,358.07 785.45,358.07 788.61,358.07 791.76,358.07 794.92,358.07 798.07,358.07 801.23,358.07 804.38,358.07 807.54,350.74 810.69,350.74 813.85,350.74 817.00,350.74 820.16,350.74 823.31,350.74 826.47,350.74 829.62,350.74 832.78,350.74 835.93,350.74 839.09,350.74 842.24,350.74 845.40,350.74" fill="none" stroke="#fff" stroke-width="3.90" stroke-linejoin="round" stroke-linecap="round"/>
<text transform="translate(517.68,421.2) rotate(-90) scale(1.000,1)" x="0" y="4.4" font-size="12.6" fill="#fff" stroke="#fff" stroke-width="0.1" text-anchor="end" textLength="58.50" lengthAdjust="spacing">09:44:03</text>
<text transform="translate(536.61,421.2) rotate(-90) scale(1.000,1)" x="0" y="4.4" font-size="12.6" fill="#fff" stroke="#fff" stroke-width="0.1" text-anchor="end" textLength="58.50" lengthAdjust="spacing">10:21:52</text>
<text transform="translate(555.54,421.2) rotate(-90) scale(1.000,1)" x="0" y="4.4" font-size="12.6" fill="#fff" stroke="#fff" stroke-width="0.1" text-anchor="end" textLength="58.50" lengthAdjust="spacing">10:36:21</text>
<text transform="translate(574.47,421.2) rotate(-90) scale(1.000,1)" x="0" y="4.4" font-size="12.6" fill="#fff" stroke="#fff" stroke-width="0.1" text-anchor="end" textLength="58.50" lengthAdjust="spacing">11:04:20</text>
<text transform="translate(593.40,421.2) rotate(-90) scale(1.000,1)" x="0" y="4.4" font-size="12.6" fill="#fff" stroke="#fff" stroke-width="0.1" text-anchor="end" textLength="58.50" lengthAdjust="spacing">11:47:14</text>
<text transform="translate(612.33,421.2) rotate(-90) scale(1.000,1)" x="0" y="4.4" font-size="12.6" fill="#fff" stroke="#fff" stroke-width="0.1" text-anchor="end" textLength="58.50" lengthAdjust="spacing">12:15:37</text>
<text transform="translate(631.26,421.2) rotate(-90) scale(1.000,1)" x="0" y="4.4" font-size="12.6" fill="#fff" stroke="#fff" stroke-width="0.1" text-anchor="end" textLength="58.50" lengthAdjust="spacing">12:47:10</text>
<text transform="translate(650.19,421.2) rotate(-90) scale(1.000,1)" x="0" y="4.4" font-size="12.6" fill="#fff" stroke="#fff" stroke-width="0.1" text-anchor="end" textLength="58.50" lengthAdjust="spacing">13:13:02</text>
<text transform="translate(669.12,421.2) rotate(-90) scale(1.000,1)" x="0" y="4.4" font-size="12.6" fill="#fff" stroke="#fff" stroke-width="0.1" text-anchor="end" textLength="58.50" lengthAdjust="spacing">14:19:57</text>
<text transform="translate(688.05,421.2) rotate(-90) scale(1.000,1)" x="0" y="4.4" font-size="12.6" fill="#fff" stroke="#fff" stroke-width="0.1" text-anchor="end" textLength="58.50" lengthAdjust="spacing">14:42:58</text>
<text transform="translate(706.98,421.2) rotate(-90) scale(1.000,1)" x="0" y="4.4" font-size="12.6" fill="#fff" stroke="#fff" stroke-width="0.1" text-anchor="end" textLength="58.50" lengthAdjust="spacing">15:12:34</text>
<text transform="translate(725.91,421.2) rotate(-90) scale(1.000,1)" x="0" y="4.4" font-size="12.6" fill="#fff" stroke="#fff" stroke-width="0.1" text-anchor="end" textLength="58.50" lengthAdjust="spacing">15:41:13</text>
<text transform="translate(744.84,421.2) rotate(-90) scale(1.000,1)" x="0" y="4.4" font-size="12.6" fill="#fff" stroke="#fff" stroke-width="0.1" text-anchor="end" textLength="58.50" lengthAdjust="spacing">16:03:14</text>
<text transform="translate(763.77,421.2) rotate(-90) scale(1.000,1)" x="0" y="4.4" font-size="12.6" fill="#fff" stroke="#fff" stroke-width="0.1" text-anchor="end" textLength="58.50" lengthAdjust="spacing">16:35:44</text>
<text transform="translate(782.70,421.2) rotate(-90) scale(1.000,1)" x="0" y="4.4" font-size="12.6" fill="#fff" stroke="#fff" stroke-width="0.1" text-anchor="end" textLength="58.50" lengthAdjust="spacing">17:05:20</text>
<text transform="translate(801.63,421.2) rotate(-90) scale(1.000,1)" x="0" y="4.4" font-size="12.6" fill="#fff" stroke="#fff" stroke-width="0.1" text-anchor="end" textLength="58.50" lengthAdjust="spacing">17:33:04</text>
<text transform="translate(820.56,421.2) rotate(-90) scale(1.000,1)" x="0" y="4.4" font-size="12.6" fill="#fff" stroke="#fff" stroke-width="0.1" text-anchor="end" textLength="58.50" lengthAdjust="spacing">18:22:19</text>
<text transform="translate(839.49,421.2) rotate(-90) scale(1.000,1)" x="0" y="4.4" font-size="12.6" fill="#fff" stroke="#fff" stroke-width="0.1" text-anchor="end" textLength="58.50" lengthAdjust="spacing">18:42:11</text>
</g>
</svg></body></html>
